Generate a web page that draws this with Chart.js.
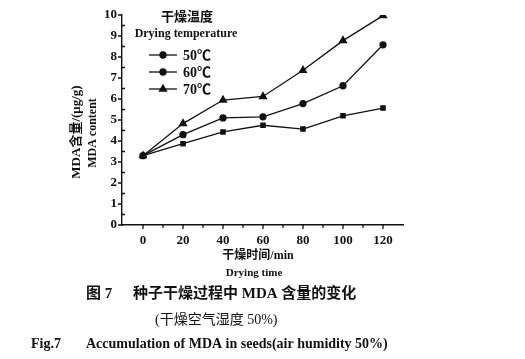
<!DOCTYPE html>
<html><head><meta charset="utf-8">
<script src="https://cdn.jsdelivr.net/npm/chart.js@4/dist/chart.umd.min.js"></script>
<style>html,body{margin:0;padding:0;background:#fff}#wrap{width:525px;height:359px}</style>
</head><body><div id="wrap"><canvas id="c" width="525" height="359"></canvas></div>
<script>
const dryingTime = [0, 20, 40, 60, 80, 100, 120];
const mda50 = [3.3, 3.87, 4.43, 4.75, 4.57, 5.2, 5.57];
const mda60 = [3.3, 4.3, 5.1, 5.15, 5.78, 6.63, 8.58];
const mda70 = [3.3, 4.83, 5.95, 6.12, 7.37, 8.78, 9.97];
const seriesNames = ['50℃', '60℃', '70℃'];
const xTickValues = [0, 20, 40, 60, 80, 100, 120];
const yTickValues = [0, 1, 2, 3, 4, 5, 6, 7, 8, 9, 10];

const SERIF = '"Liberation Serif", "Noto Sans CJK SC", serif';

function pts(arr){ return arr.map((v,i)=>({x: dryingTime[i], y: v})); }

const ds = (label, data, style, r) => ({
  label, data: pts(data), borderColor:'#111', backgroundColor:'#111', borderWidth:1.3,
  pointStyle: style, pointRadius: r, pointHoverRadius: r, tension:0
});

const decor = {
  id:'decor',
  afterDraw(chart){
    const ctx = chart.ctx, xs = chart.scales.x, ys = chart.scales.y;
    ctx.save();
    ctx.strokeStyle = '#111'; ctx.lineWidth = 1.3;
    const x0 = xs.left, yb = ys.bottom;
    ctx.beginPath();
    // x ticks (outward, down)
    xTickValues.forEach(v=>{ const px = xs.getPixelForValue(v); ctx.moveTo(px, yb); ctx.lineTo(px, yb+4); });
    for (let i=0;i<xTickValues.length-1;i++){ const px = xs.getPixelForValue((xTickValues[i]+xTickValues[i+1])/2); ctx.moveTo(px,yb); ctx.lineTo(px,yb+3); }
    // y ticks: major outward (left), minor inward (right)
    yTickValues.forEach(v=>{ const py = ys.getPixelForValue(v); ctx.moveTo(x0, py); ctx.lineTo(x0-4, py); });
    for (let i=0;i<yTickValues.length-1;i++){ const py = ys.getPixelForValue((yTickValues[i]+yTickValues[i+1])/2); ctx.moveTo(x0,py); ctx.lineTo(x0+3,py); }
    ctx.stroke();

    ctx.fillStyle = '#111';
    ctx.textBaseline = 'middle';
    // y title
    ctx.save();
    ctx.translate(77, 132); ctx.rotate(-Math.PI/2);
    ctx.textAlign = 'center';
    ctx.font = 'bold 13px ' + SERIF;
    ctx.fillText('MDA含量/(μg/g)', 0, 0);
    ctx.restore();
    ctx.save();
    ctx.translate(93, 133); ctx.rotate(-Math.PI/2);
    ctx.textAlign = 'center';
    ctx.font = 'bold 12px ' + SERIF;
    ctx.fillText('MDA content', 0, 0);
    ctx.restore();

    // x title
    ctx.textAlign = 'center';
    ctx.font = 'bold 12px ' + SERIF;
    ctx.fillText('干燥时间/min', 258, 256);
    ctx.font = 'bold 11px ' + SERIF;
    ctx.fillText('Drying time', 254, 273);

    // captions
    ctx.font = 'bold 15px ' + SERIF;
    ctx.textAlign = 'left';
    ctx.fillText('图 7', 86, 294);
    ctx.fillText('种子干燥过程中 MDA 含量的变化', 133, 294);
    ctx.font = '14px ' + SERIF;
    ctx.fillText('(干燥空气湿度 50%)', 155, 320);
    ctx.font = 'bold 14px ' + SERIF;
    ctx.fillText('Fig.7', 31, 344);
    ctx.fillText('Accumulation of MDA in seeds(air humidity 50%)', 86, 344);

    // legend
    ctx.textAlign = 'center';
    ctx.font = 'bold 13px ' + SERIF;
    ctx.fillText('干燥温度', 187, 18);
    ctx.font = 'bold 12px ' + SERIF;
    ctx.fillText('Drying temperature', 186, 34);
    const ly = [55, 72, 89];
    chart.data.datasets.forEach((d,i)=>{
      ctx.beginPath(); ctx.moveTo(149, ly[i]); ctx.lineTo(177, ly[i]); ctx.stroke();
      Chart.helpers.drawPoint(ctx, {pointStyle: i===0?'circle':d.pointStyle, radius: d.pointRadius, rotation:0, borderWidth:1}, 163, ly[i]);
      ctx.fill();
      ctx.textAlign = 'left';
      ctx.font = 'bold 14px ' + SERIF;
      ctx.fillText(d.label, 183, ly[i]+1);
    });
    ctx.restore();
  }
};

new Chart(document.getElementById('c'), {
  type:'line',
  data:{ datasets:[
    ds(seriesNames[0], mda50, 'rect', 3),
    ds(seriesNames[1], mda60, 'circle', 3),
    ds(seriesNames[2], mda70, 'triangle', 4)
  ]},
  options:{
    responsive:false, animation:false, devicePixelRatio:1,
    layout:{ padding:{ left:0, right:122, top:15, bottom:0 } },
    plugins:{ legend:{display:false}, tooltip:{enabled:false} },
    scales:{
      x:{ type:'linear', min:-10.5, max:130,
          afterBuildTicks(s){ s.ticks = xTickValues.map(v=>({value:v})); },
          afterFit(s){ s.height = 134; },
          grid:{ display:false, drawTicks:false },
          border:{ display:true, color:'#111', width:1.4 },
          ticks:{ color:'#111', padding:8, maxRotation:0, font:{ family:SERIF, size:13, weight:'bold' } } },
      y:{ type:'linear', min:0, max:10,
          afterBuildTicks(s){ s.ticks = yTickValues.map(v=>({value:v})); },
          afterFit(s){ s.width = 122; },
          grid:{ display:false, drawTicks:false },
          border:{ display:true, color:'#111', width:1.4 },
          ticks:{ color:'#111', padding:5, font:{ family:SERIF, size:13, weight:'bold' } } }
    }
  },
  plugins:[decor]
});
</script></body></html>
